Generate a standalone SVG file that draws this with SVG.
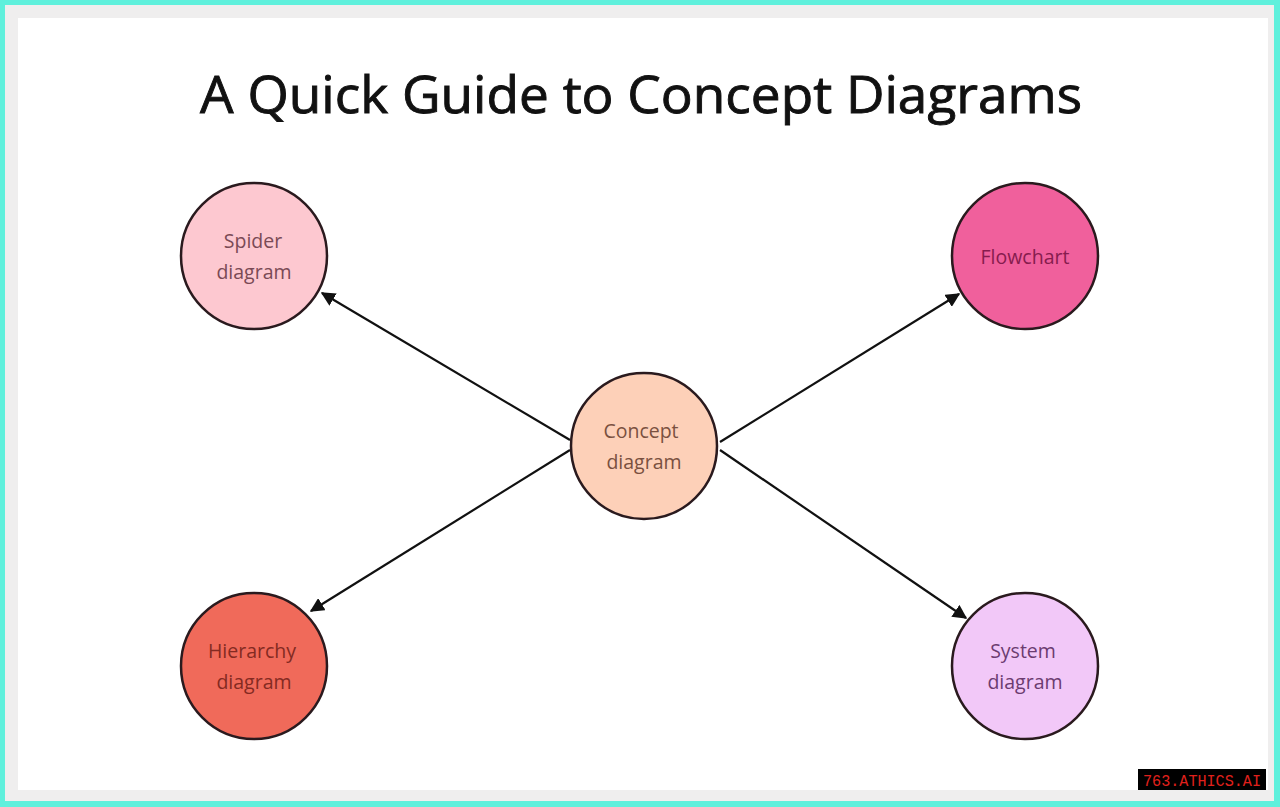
<svg xmlns="http://www.w3.org/2000/svg" width="1280" height="807" viewBox="0 0 1280 807">
<defs>
<style>
.node circle{stroke:#2a1a1e;stroke-width:2.5}
.node text{font-family:"Open Sans","Noto Sans",sans-serif;font-size:19.5px;text-anchor:middle}
.edge{stroke:#111;stroke-width:2.2;fill:none;marker-end:url(#ah)}
</style>
<marker id="ah" viewBox="0 0 10 10" refX="9" refY="5" markerWidth="6.5" markerHeight="6.5" orient="auto" markerUnits="strokeWidth">
<path d="M0,0 L10,5 L0,10 z" fill="#111"/>
</marker>
</defs>
<rect x="0" y="0" width="1280" height="807" fill="#5ff0dc"/>
<rect x="5" y="5" width="1269" height="796" fill="#efeeee"/>
<rect x="18" y="18" width="1250" height="772" fill="#ffffff"/>
<text x="641" y="113" font-family="Open Sans, Noto Sans, sans-serif" font-size="52" text-anchor="middle" textLength="882" lengthAdjust="spacingAndGlyphs" fill="#111" stroke="#111" stroke-width="0.9">A Quick Guide to Concept Diagrams</text>
<g id="connectors">
<line class="edge" x1="570" y1="440" x2="322" y2="293"/>
<line class="edge" x1="720" y1="442" x2="959" y2="294"/>
<line class="edge" x1="570" y1="450" x2="311" y2="611"/>
<line class="edge" x1="720" y1="450" x2="966" y2="618"/>
</g>
<g id="spider" class="node">
<circle cx="254" cy="256" r="73" fill="#fdc8d0"/>
<text fill="#7a4a55"><tspan x="253" y="248">Spider</tspan><tspan x="254" y="279">diagram</tspan></text>
</g>
<g id="flowchart" class="node">
<circle cx="1025" cy="256" r="73" fill="#f0609c"/>
<text x="1025" y="264" fill="#861c4e">Flowchart</text>
</g>
<g id="concept" class="node">
<circle cx="644" cy="446" r="73" fill="#fdd0b8"/>
<text fill="#7a5040"><tspan x="641" y="438">Concept</tspan><tspan x="644" y="469">diagram</tspan></text>
</g>
<g id="hierarchy" class="node">
<circle cx="254" cy="666" r="73" fill="#f06a5a"/>
<text fill="#842a22"><tspan x="252" y="658">Hierarchy</tspan><tspan x="254" y="689">diagram</tspan></text>
</g>
<g id="system" class="node">
<circle cx="1025" cy="666" r="73" fill="#f2c8f8"/>
<text fill="#6c3c70"><tspan x="1023" y="658">System</tspan><tspan x="1025" y="689">diagram</tspan></text>
</g>
<g id="watermark">
<rect x="1138" y="769" width="128" height="21" fill="#000"/>
<text x="1202" y="785.5" font-family="Liberation Mono, monospace" font-size="17" text-anchor="middle" textLength="118" lengthAdjust="spacingAndGlyphs" fill="#e0201c">763.ATHICS.AI</text>
</g>
</svg>
